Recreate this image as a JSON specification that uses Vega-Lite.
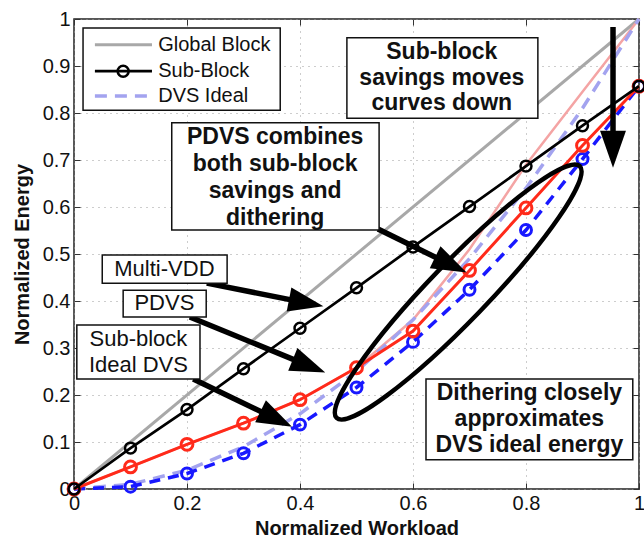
{
  "$schema": "https://vega.github.io/schema/vega-lite/v6.json",
  "width": 565,
  "height": 470,
  "autosize": {"type": "none"},
  "padding": {"left": 74, "top": 19, "right": 5, "bottom": 49},
  "background": "white",
  "datasets": {
    "curves": [
      {"series": "Global Block", "x": 0, "y": 0}, {"series": "Global Block", "x": 1, "y": 1},
      {"series": "Sub-Block", "x": 0, "y": 0}, {"series": "Sub-Block", "x": 0.1, "y": 0.087}, {"series": "Sub-Block", "x": 0.2, "y": 0.169}, {"series": "Sub-Block", "x": 0.3, "y": 0.256}, {"series": "Sub-Block", "x": 0.4, "y": 0.342}, {"series": "Sub-Block", "x": 0.5, "y": 0.428}, {"series": "Sub-Block", "x": 0.6, "y": 0.515}, {"series": "Sub-Block", "x": 0.7, "y": 0.601}, {"series": "Sub-Block", "x": 0.8, "y": 0.687}, {"series": "Sub-Block", "x": 0.9, "y": 0.773}, {"series": "Sub-Block", "x": 1, "y": 0.857},
      {"series": "PDVS", "x": 0, "y": 0}, {"series": "PDVS", "x": 0.1, "y": 0.047}, {"series": "PDVS", "x": 0.2, "y": 0.095}, {"series": "PDVS", "x": 0.3, "y": 0.14}, {"series": "PDVS", "x": 0.4, "y": 0.19}, {"series": "PDVS", "x": 0.5, "y": 0.258}, {"series": "PDVS", "x": 0.6, "y": 0.336}, {"series": "PDVS", "x": 0.7, "y": 0.465}, {"series": "PDVS", "x": 0.8, "y": 0.598}, {"series": "PDVS", "x": 0.9, "y": 0.731}, {"series": "PDVS", "x": 1, "y": 0.857},
      {"series": "Sub-block Ideal DVS", "x": 0, "y": 0}, {"series": "Sub-block Ideal DVS", "x": 0.1, "y": 0.005}, {"series": "Sub-block Ideal DVS", "x": 0.2, "y": 0.033}, {"series": "Sub-block Ideal DVS", "x": 0.3, "y": 0.076}, {"series": "Sub-block Ideal DVS", "x": 0.4, "y": 0.137}, {"series": "Sub-block Ideal DVS", "x": 0.5, "y": 0.216}, {"series": "Sub-block Ideal DVS", "x": 0.6, "y": 0.313}, {"series": "Sub-block Ideal DVS", "x": 0.7, "y": 0.424}, {"series": "Sub-block Ideal DVS", "x": 0.8, "y": 0.551}, {"series": "Sub-block Ideal DVS", "x": 0.9, "y": 0.702}, {"series": "Sub-block Ideal DVS", "x": 1, "y": 0.857},
      {"series": "DVS Ideal", "x": 0, "y": 0}, {"series": "DVS Ideal", "x": 0.1, "y": 0.01}, {"series": "DVS Ideal", "x": 0.2, "y": 0.04}, {"series": "DVS Ideal", "x": 0.3, "y": 0.09}, {"series": "DVS Ideal", "x": 0.4, "y": 0.16}, {"series": "DVS Ideal", "x": 0.5, "y": 0.25}, {"series": "DVS Ideal", "x": 0.6, "y": 0.36}, {"series": "DVS Ideal", "x": 0.7, "y": 0.49}, {"series": "DVS Ideal", "x": 0.8, "y": 0.64}, {"series": "DVS Ideal", "x": 0.9, "y": 0.81}, {"series": "DVS Ideal", "x": 1, "y": 1},
      {"series": "Dithering", "x": 0, "y": 0}, {"series": "Dithering", "x": 0.1, "y": 0.047}, {"series": "Dithering", "x": 0.2, "y": 0.095}, {"series": "Dithering", "x": 0.3, "y": 0.14}, {"series": "Dithering", "x": 0.4, "y": 0.19}, {"series": "Dithering", "x": 0.5, "y": 0.258}, {"series": "Dithering", "x": 0.6, "y": 0.36}, {"series": "Dithering", "x": 0.7, "y": 0.51}, {"series": "Dithering", "x": 0.8, "y": 0.69}, {"series": "Dithering", "x": 0.9, "y": 0.845}, {"series": "Dithering", "x": 1, "y": 1}
    ],
    "arrows": [
      {"id": "multivdd", "x": 0.235, "y": 0.438, "x2": 0.411, "y2": 0.396},
      {"id": "pdvs", "x": 0.205, "y": 0.366, "x2": 0.416, "y2": 0.262},
      {"id": "subideal", "x": 0.211, "y": 0.234, "x2": 0.358, "y2": 0.149},
      {"id": "combines", "x": 0.538, "y": 0.553, "x2": 0.667, "y2": 0.477},
      {"id": "down", "x": 0.954, "y": 0.983, "x2": 0.954, "y2": 0.723}
    ],
    "ellipse": [{"x": 0.68, "y": 0.419}],
    "boxes": [
      {"id": "savings", "x1": 0.483, "x2": 0.821, "y1": 0.96, "y2": 0.789},
      {"id": "combines", "x1": 0.173, "x2": 0.54, "y1": 0.779, "y2": 0.551},
      {"id": "multivdd", "x1": 0.05, "x2": 0.271, "y1": 0.498, "y2": 0.438},
      {"id": "pdvs", "x1": 0.087, "x2": 0.234, "y1": 0.423, "y2": 0.366},
      {"id": "subideal", "x1": 0.005, "x2": 0.223, "y1": 0.349, "y2": 0.234},
      {"id": "dithering", "x1": 0.623, "x2": 0.989, "y1": 0.234, "y2": 0.062},
      {"id": "legend", "x1": 0.016, "x2": 0.365, "y1": 0.981, "y2": 0.806}
    ],
    "boldText": [
      {"x": 0.651, "y": 0.93, "text": "Sub-block"},
      {"x": 0.651, "y": 0.874, "text": "savings moves"},
      {"x": 0.651, "y": 0.821, "text": "curves down"},
      {"x": 0.356, "y": 0.749, "text": "PDVS combines"},
      {"x": 0.356, "y": 0.691, "text": "both sub-block"},
      {"x": 0.356, "y": 0.634, "text": "savings and"},
      {"x": 0.356, "y": 0.577, "text": "dithering"},
      {"x": 0.806, "y": 0.204, "text": "Dithering closely"},
      {"x": 0.806, "y": 0.149, "text": "approximates"},
      {"x": 0.806, "y": 0.094, "text": "DVS ideal energy"}
    ],
    "plainText": [
      {"x": 0.16, "y": 0.468, "text": "Multi-VDD"},
      {"x": 0.16, "y": 0.395, "text": "PDVS"},
      {"x": 0.114, "y": 0.319, "text": "Sub-block"},
      {"x": 0.114, "y": 0.264, "text": "Ideal DVS"}
    ],
    "legend": [
      {"series": "Global Block", "x": 0.037, "x2": 0.138, "xm": 0.087, "xt": 0.149, "y": 0.945},
      {"series": "Sub-Block", "x": 0.037, "x2": 0.138, "xm": 0.087, "xt": 0.149, "y": 0.889},
      {"series": "DVS Ideal", "x": 0.037, "x2": 0.138, "xm": 0.087, "xt": 0.149, "y": 0.836}
    ]
  },
  "layer": [
    {
      "data": {"name": "curves"},
      "transform": [{"filter": "datum.series === 'Global Block'"}],
      "mark": {"type": "line", "color": "#a8a8a8", "strokeWidth": 3, "clip": false},
      "encoding": {
        "x": {"field": "x", "type": "quantitative", "scale": {"domain": [0, 1], "nice": false},
          "axis": {"orient": "bottom", "title": "Normalized Workload", "values": [0, 0.2, 0.4, 0.6, 0.8, 1], "format": "~g", "grid": true, "labelFlush": false, "labelOverlap": false, "tickSize": -6, "labelPadding": 10, "titlePadding": 5, "domain": false}},
        "y": {"field": "y", "type": "quantitative", "scale": {"domain": [0, 1], "nice": false},
          "axis": {"orient": "left", "title": "Normalized Energy", "values": [0, 0.1, 0.2, 0.3, 0.4, 0.5, 0.6, 0.7, 0.8, 0.9, 1], "format": "~g", "grid": true, "labelFlush": false, "labelOverlap": false, "tickSize": -6, "labelPadding": 10, "titlePadding": 10, "domain": false}}
      }
    },
    {
      "data": {"name": "curves"},
      "transform": [{"filter": "datum.series === 'Dithering'"}],
      "mark": {"type": "line", "color": "#f4a4a4", "strokeWidth": 2.5},
      "encoding": {
        "x": {"field": "x", "type": "quantitative", "axis": {"orient": "top", "title": null, "labels": false, "grid": false, "values": [0, 0.2, 0.4, 0.6, 0.8, 1], "tickSize": -6, "domain": false}},
        "y": {"field": "y", "type": "quantitative", "axis": {"orient": "right", "title": null, "labels": false, "grid": false, "values": [0, 0.1, 0.2, 0.3, 0.4, 0.5, 0.6, 0.7, 0.8, 0.9, 1], "tickSize": -6, "domain": false}}
      }
    },
    {
      "data": {"name": "curves"},
      "transform": [{"filter": "datum.series === 'DVS Ideal'"}],
      "mark": {"type": "line", "color": "#a3a3ef", "strokeWidth": 3.5, "strokeDash": [12, 8]},
      "encoding": {
        "x": {"field": "x", "type": "quantitative", "axis": null},
        "y": {"field": "y", "type": "quantitative", "axis": null}
      }
    },
    {
      "data": {"name": "curves"},
      "transform": [{"filter": "datum.series === 'Sub-block Ideal DVS'"}],
      "mark": {"type": "line", "color": "#1818ff", "strokeWidth": 3.5, "strokeDash": [11, 8]},
      "encoding": {
        "x": {"field": "x", "type": "quantitative", "axis": null},
        "y": {"field": "y", "type": "quantitative", "axis": null}
      }
    },
    {
      "data": {"name": "curves"},
      "transform": [{"filter": "datum.series === 'Sub-block Ideal DVS'"}],
      "mark": {"type": "point", "shape": "circle", "filled": false, "stroke": "#1818ff", "strokeWidth": 3, "size": 120, "opacity": 1},
      "encoding": {
        "x": {"field": "x", "type": "quantitative", "axis": null},
        "y": {"field": "y", "type": "quantitative", "axis": null}
      }
    },
    {
      "data": {"name": "curves"},
      "transform": [{"filter": "datum.series === 'PDVS'"}],
      "mark": {"type": "line", "color": "#ff2a1a", "strokeWidth": 3},
      "encoding": {
        "x": {"field": "x", "type": "quantitative", "axis": null},
        "y": {"field": "y", "type": "quantitative", "axis": null}
      }
    },
    {
      "data": {"name": "curves"},
      "transform": [{"filter": "datum.series === 'PDVS'"}],
      "mark": {"type": "point", "shape": "circle", "filled": false, "stroke": "#ff2a1a", "strokeWidth": 3, "size": 140, "opacity": 1},
      "encoding": {
        "x": {"field": "x", "type": "quantitative", "axis": null},
        "y": {"field": "y", "type": "quantitative", "axis": null}
      }
    },
    {
      "data": {"name": "curves"},
      "transform": [{"filter": "datum.series === 'Sub-Block'"}],
      "mark": {"type": "line", "color": "#000000", "strokeWidth": 2.7},
      "encoding": {
        "x": {"field": "x", "type": "quantitative", "axis": null},
        "y": {"field": "y", "type": "quantitative", "axis": null}
      }
    },
    {
      "data": {"name": "curves"},
      "transform": [{"filter": "datum.series === 'Sub-Block'"}],
      "mark": {"type": "point", "shape": "circle", "filled": false, "stroke": "#000000", "strokeWidth": 2.5, "size": 120, "opacity": 1},
      "encoding": {
        "x": {"field": "x", "type": "quantitative", "axis": null},
        "y": {"field": "y", "type": "quantitative", "axis": null}
      }
    },
    {
      "data": {"name": "ellipse"},
      "mark": {"type": "point", "shape": "M 1 0 C 1 0.0917 0.5523 0.166 0 0.166 C -0.5523 0.166 -1 0.0917 -1 0 C -1 -0.0917 -0.5523 -0.166 0 -0.166 C 0.5523 -0.166 1 -0.0917 1 0 Z", "filled": false, "stroke": "#000000", "strokeWidth": 4.5, "size": 122500, "angle": 314, "opacity": 1},
      "encoding": {
        "x": {"field": "x", "type": "quantitative", "axis": null},
        "y": {"field": "y", "type": "quantitative", "axis": null}
      }
    },
    {
      "data": {"name": "arrows"},
      "mark": {"type": "rule", "color": "#000000", "strokeWidth": 5.5, "strokeCap": "butt"},
      "encoding": {
        "x": {"field": "x", "type": "quantitative", "axis": null},
        "y": {"field": "y", "type": "quantitative", "axis": null},
        "x2": {"field": "x2"},
        "y2": {"field": "y2"}
      }
    },
    {
      "data": {"name": "arrows"},
      "transform": [{"filter": "datum.id === 'multivdd'"}],
      "mark": {"type": "point", "shape": "M 1 0 L -1 -0.7 L -1 0.7 Z", "filled": true, "color": "#000000", "size": 1225, "angle": 11, "opacity": 1},
      "encoding": {
        "x": {"field": "x2", "type": "quantitative", "axis": null},
        "y": {"field": "y2", "type": "quantitative", "axis": null}
      }
    },
    {
      "data": {"name": "arrows"},
      "transform": [{"filter": "datum.id === 'pdvs'"}],
      "mark": {"type": "point", "shape": "M 1 0 L -1 -0.7 L -1 0.7 Z", "filled": true, "color": "#000000", "size": 1225, "angle": 22, "opacity": 1},
      "encoding": {
        "x": {"field": "x2", "type": "quantitative", "axis": null},
        "y": {"field": "y2", "type": "quantitative", "axis": null}
      }
    },
    {
      "data": {"name": "arrows"},
      "transform": [{"filter": "datum.id === 'subideal'"}],
      "mark": {"type": "point", "shape": "M 1 0 L -1 -0.7 L -1 0.7 Z", "filled": true, "color": "#000000", "size": 1225, "angle": 26, "opacity": 1},
      "encoding": {
        "x": {"field": "x2", "type": "quantitative", "axis": null},
        "y": {"field": "y2", "type": "quantitative", "axis": null}
      }
    },
    {
      "data": {"name": "arrows"},
      "transform": [{"filter": "datum.id === 'combines'"}],
      "mark": {"type": "point", "shape": "M 1 0 L -1 -0.7 L -1 0.7 Z", "filled": true, "color": "#000000", "size": 1225, "angle": 26, "opacity": 1},
      "encoding": {
        "x": {"field": "x2", "type": "quantitative", "axis": null},
        "y": {"field": "y2", "type": "quantitative", "axis": null}
      }
    },
    {
      "data": {"name": "arrows"},
      "transform": [{"filter": "datum.id === 'down'"}],
      "mark": {"type": "point", "shape": "M 1 0 L -1 -0.7 L -1 0.7 Z", "filled": true, "color": "#000000", "size": 1369, "angle": 90, "opacity": 1},
      "encoding": {
        "x": {"field": "x2", "type": "quantitative", "axis": null},
        "y": {"field": "y2", "type": "quantitative", "axis": null}
      }
    },
    {
      "data": {"name": "boxes"},
      "mark": {"type": "rect", "fill": "#ffffff", "stroke": "#111111", "strokeWidth": 1.5},
      "encoding": {
        "x": {"field": "x1", "type": "quantitative", "axis": null},
        "x2": {"field": "x2"},
        "y": {"field": "y1", "type": "quantitative", "axis": null},
        "y2": {"field": "y2"}
      }
    },
    {
      "data": {"name": "boldText"},
      "mark": {"type": "text", "font": "Liberation Sans", "fontWeight": "bold", "fontSize": 23, "color": "#111111", "align": "center", "baseline": "middle"},
      "encoding": {
        "x": {"field": "x", "type": "quantitative", "axis": null},
        "y": {"field": "y", "type": "quantitative", "axis": null},
        "text": {"field": "text"}
      }
    },
    {
      "data": {"name": "plainText"},
      "mark": {"type": "text", "font": "Liberation Sans", "fontSize": 22, "color": "#111111", "align": "center", "baseline": "middle"},
      "encoding": {
        "x": {"field": "x", "type": "quantitative", "axis": null},
        "y": {"field": "y", "type": "quantitative", "axis": null},
        "text": {"field": "text"}
      }
    },
    {
      "data": {"name": "legend"},
      "transform": [{"filter": "datum.series === 'Global Block'"}],
      "mark": {"type": "rule", "color": "#a8a8a8", "strokeWidth": 3},
      "encoding": {
        "x": {"field": "x", "type": "quantitative", "axis": null},
        "x2": {"field": "x2"},
        "y": {"field": "y", "type": "quantitative", "axis": null}
      }
    },
    {
      "data": {"name": "legend"},
      "transform": [{"filter": "datum.series === 'Sub-Block'"}],
      "mark": {"type": "rule", "color": "#000000", "strokeWidth": 2.7},
      "encoding": {
        "x": {"field": "x", "type": "quantitative", "axis": null},
        "x2": {"field": "x2"},
        "y": {"field": "y", "type": "quantitative", "axis": null}
      }
    },
    {
      "data": {"name": "legend"},
      "transform": [{"filter": "datum.series === 'Sub-Block'"}],
      "mark": {"type": "point", "shape": "circle", "filled": false, "stroke": "#000000", "strokeWidth": 2.5, "size": 120, "opacity": 1},
      "encoding": {
        "x": {"field": "xm", "type": "quantitative", "axis": null},
        "y": {"field": "y", "type": "quantitative", "axis": null}
      }
    },
    {
      "data": {"name": "legend"},
      "transform": [{"filter": "datum.series === 'DVS Ideal'"}],
      "mark": {"type": "rule", "color": "#a3a3ef", "strokeWidth": 3.5, "strokeDash": [12, 8]},
      "encoding": {
        "x": {"field": "x", "type": "quantitative", "axis": null},
        "x2": {"field": "x2"},
        "y": {"field": "y", "type": "quantitative", "axis": null}
      }
    },
    {
      "data": {"name": "legend"},
      "mark": {"type": "text", "font": "Liberation Sans", "fontSize": 20, "color": "#111111", "align": "left", "baseline": "middle"},
      "encoding": {
        "x": {"field": "xt", "type": "quantitative", "axis": null},
        "y": {"field": "y", "type": "quantitative", "axis": null},
        "text": {"field": "series"}
      }
    }
  ],
  "resolve": {"axis": {"x": "independent", "y": "independent"}},
  "config": {
    "view": {"stroke": "#222222", "strokeWidth": 1.5},
    "axis": {
      "labelFont": "Liberation Sans",
      "labelFontSize": 20,
      "labelColor": "#111111",
      "titleFont": "Liberation Sans",
      "titleFontSize": 20,
      "titleFontWeight": "bold",
      "titleColor": "#111111",
      "gridColor": "#9a9a9a",
      "gridDash": [1, 5],
      "gridWidth": 1,
      "tickColor": "#333333",
      "tickWidth": 1
    }
  }
}
